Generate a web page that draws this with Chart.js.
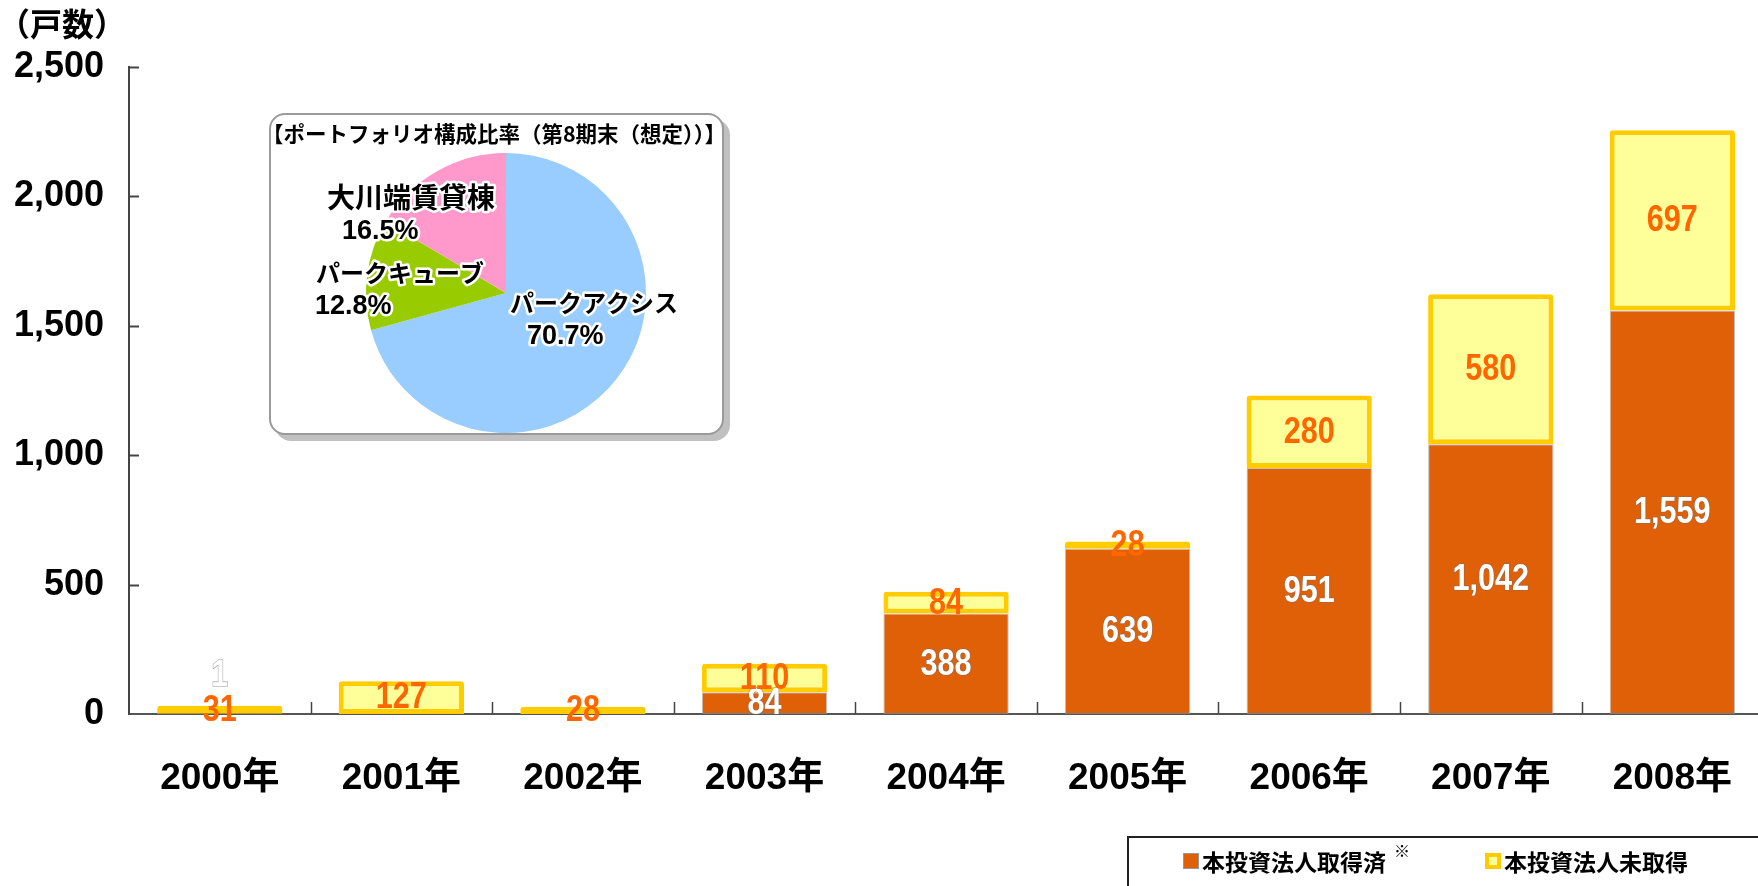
<!DOCTYPE html>
<html lang="ja">
<head>
<meta charset="utf-8">
<title>戸数推移</title>
<script src="https://cdn.jsdelivr.net/npm/chart.js@4.4.1/dist/chart.umd.min.js"></script>
<style>
  html, body { margin: 0; padding: 0; background: #fff; overflow: hidden; }
  #wrap { position: relative; width: 1767px; height: 886px; }
  #pieBox {
    position: absolute; left: 269px; top: 113px;
    width: 451px; height: 318px;
    border: 2px solid #9a9a9a; border-radius: 16px;
    box-shadow: 6px 6px 0 #c0c0c0;
    background: #fff; overflow: hidden;
  }
</style>
</head>
<body>
<div id="wrap">
  <canvas id="units" width="1767" height="886"></canvas>
  <div id="pieBox"><canvas id="share" width="451" height="318"></canvas></div>
</div>
<script>
// yearly unit counts
const years = ['2000年', '2001年', '2002年', '2003年', '2004年', '2005年', '2006年', '2007年', '2008年'];
const acquired = [1, 0, 0, 84, 388, 639, 951, 1042, 1559];
const notAcquired = [31, 127, 28, 110, 84, 28, 280, 580, 697];
const yTicks = [0, 500, 1000, 1500, 2000, 2500];

// portfolio mix (inset pie)
const pieLabels = ['パークアクシス', 'パークキューブ', '大川端賃貸棟'];
const pieShares = [70.7, 12.8, 16.5];
const pieColors = ['#99CCFF', '#99CC00', '#FF99CC'];

const JP = '"Noto Sans CJK JP", sans-serif';
const NUM = '"Liberation Sans", "Noto Sans CJK JP", sans-serif';

const fmt = v => v.toLocaleString('en-US');

const barDecor = {
  id: 'barDecor',
  afterDatasetsDraw(chart) {
    const { ctx, chartArea: area, scales: { x, y } } = chart;
    ctx.save();
    // inward tick marks
    ctx.strokeStyle = '#444';
    ctx.lineWidth = 2;
    y.ticks.forEach((t, i) => {
      if (i === 0) return;
      const py = Math.round(y.getPixelForTick(i)) + 0.5;
      ctx.beginPath(); ctx.moveTo(area.left, py); ctx.lineTo(area.left + 10, py); ctx.stroke();
    });
    ctx.lineWidth = 1.5;
    for (let i = 1; i < years.length; i++) {
      const px = Math.round((x.getPixelForTick(i - 1) + x.getPixelForTick(i)) / 2) + 0.5;
      ctx.beginPath(); ctx.moveTo(px, area.bottom); ctx.lineTo(px, area.bottom - 12); ctx.stroke();
    }

    // value labels in the middle of each segment, condensed digits
    ctx.font = 'bold 36px ' + NUM;
    ctx.textAlign = 'center';
    ctx.textBaseline = 'middle';
    chart.data.datasets.forEach((ds, di) => {
      chart.getDatasetMeta(di).data.forEach((bar, i) => {
        const v = ds.data[i];
        if (!v) return;
        let cy = (bar.y + bar.base) / 2;
        if (di === 0 && Math.abs(bar.base - bar.y) < 10) cy = bar.base - 39;
        const txt = fmt(v);
        ctx.save();
        ctx.translate(bar.x, cy + 1);
        ctx.scale(0.85, 1);
        if (di === 0) {
          ctx.lineWidth = 1.2;
          ctx.strokeStyle = 'rgba(110,110,110,0.7)';
          ctx.strokeText(txt, 0, 0);
          ctx.fillStyle = '#fff';
        } else {
          ctx.fillStyle = '#FF6600';
        }
        ctx.fillText(txt, 0, 0);
        ctx.restore();
      });
    });
    ctx.restore();
  },
  afterDraw(chart) {
    const { ctx } = chart;
    ctx.save();
    // unit caption
    ctx.fillStyle = '#000';
    ctx.font = 'bold 32px ' + JP;
    ctx.textBaseline = 'middle';
    ctx.textAlign = 'left';
    ctx.fillText('（戸数）', -2, 24);

    // legend frame, runs past the right edge
    ctx.strokeStyle = '#222';
    ctx.lineWidth = 2;
    ctx.strokeRect(1128, 837, 640, 80);
    const ds = chart.data.datasets;
    const spots = [1183, 1485];
    ds.forEach((d, i) => {
      const sx = spots[i], sy = 853;
      if (i === 0) {
        ctx.fillStyle = d.backgroundColor;
        ctx.fillRect(sx, sy, 16, 16);
        ctx.strokeStyle = '#999'; ctx.lineWidth = 1;
        ctx.strokeRect(sx + 0.5, sy + 0.5, 15, 15);
      } else {
        ctx.fillStyle = d.borderColor;
        ctx.fillRect(sx, sy, 16, 16);
        ctx.fillStyle = d.backgroundColor;
        ctx.fillRect(sx + 4, sy + 4, 8, 8);
      }
      ctx.fillStyle = '#000';
      ctx.font = 'bold 23px ' + JP;
      ctx.fillText(d.label, sx + 19, sy + 9);
      const w = ctx.measureText(d.label).width;
      if (i === 0) {
        ctx.font = '16px ' + JP;
        ctx.fillText('※', sx + 19 + w + 8, sy - 2);
      }
    });
    ctx.restore();
  }
};

new Chart(document.getElementById('units'), {
  type: 'bar',
  data: {
    labels: years,
    datasets: [
      {
        label: '本投資法人取得済',
        data: acquired,
        backgroundColor: '#E06008',
        borderColor: 'rgba(150,150,150,0.6)',
        borderWidth: 1,
        borderSkipped: false
      },
      {
        label: '本投資法人未取得',
        data: notAcquired,
        backgroundColor: '#FFFF99',
        borderColor: '#FFCC00',
        borderWidth: 5,
        borderSkipped: false,
        borderRadius: { topLeft: 3, topRight: 3, bottomLeft: 0, bottomRight: 0 }
      }
    ]
  },
  options: {
    responsive: false,
    animation: false,
    barPercentage: 0.69,
    categoryPercentage: 1,
    layout: { padding: { top: 67, right: 0, left: 0, bottom: 0 } },
    plugins: { legend: { display: false }, tooltip: { enabled: false } },
    scales: {
      x: {
        stacked: true,
        grid: { display: false },
        border: { display: true, color: '#555', width: 2 },
        ticks: { color: '#000', padding: 35, font: { family: NUM, size: 37, weight: 'bold' } },
        afterFit: s => { s.height = 172; }
      },
      y: {
        stacked: true,
        min: 0,
        max: 2500,
        grid: { display: false },
        border: { display: true, color: '#444', width: 2 },
        afterBuildTicks: s => { s.ticks = yTicks.map(v => ({ value: v })); },
        ticks: {
          color: '#000',
          padding: 17,
          font: { family: NUM, size: 36, weight: 'bold' },
          callback: v => fmt(v)
        },
        afterFit: s => { s.width = 129; }
      }
    }
  },
  plugins: [barDecor]
});

// inset pie: title and slice labels
const pieDecor = {
  id: 'pieDecor',
  afterDraw(chart) {
    const { ctx } = chart;
    const arc = chart.getDatasetMeta(0).data[0];
    const cx = arc.x, cy = arc.y;
    ctx.save();
    ctx.fillStyle = '#000';
    ctx.textBaseline = 'middle';
    ctx.textAlign = 'center';
    ctx.font = 'bold 21.5px ' + JP;
    ctx.fillText('【ポートフォリオ構成比率（第8期末（想定））】', 223, 19);

    const spots = [
      { x: 4, y: 12, indent: 17, size: 24 },
      { x: -190, y: -18, indent: -1, size: 24 },
      { x: -179, y: -93, indent: 15, size: 28 }
    ];
    ctx.textAlign = 'left';
    ctx.lineJoin = 'round';
    pieLabels.forEach((name, i) => {
      const s = spots[i];
      const lines = [
        [name, s.size, cx + s.x, cy + s.y],
        [pieShares[i].toFixed(1) + '%', 27, cx + s.x + s.indent, cy + s.y + 32]
      ];
      lines.forEach(([t, size, tx, ty]) => {
        ctx.font = 'bold ' + size + 'px ' + NUM;
        ctx.strokeStyle = '#fff';
        ctx.lineWidth = 5;
        ctx.strokeText(t, tx, ty);
        ctx.fillStyle = '#000';
        ctx.fillText(t, tx, ty);
      });
    });
    ctx.restore();
  }
};

new Chart(document.getElementById('share'), {
  type: 'pie',
  data: {
    labels: pieLabels,
    datasets: [{ data: pieShares, backgroundColor: pieColors, borderWidth: 0 }]
  },
  options: {
    responsive: false,
    animation: false,
    layout: { padding: { top: 38, left: 19, right: 0, bottom: 0 } },
    plugins: { legend: { display: false }, tooltip: { enabled: false } }
  },
  plugins: [pieDecor]
});
</script>
</body>
</html>
